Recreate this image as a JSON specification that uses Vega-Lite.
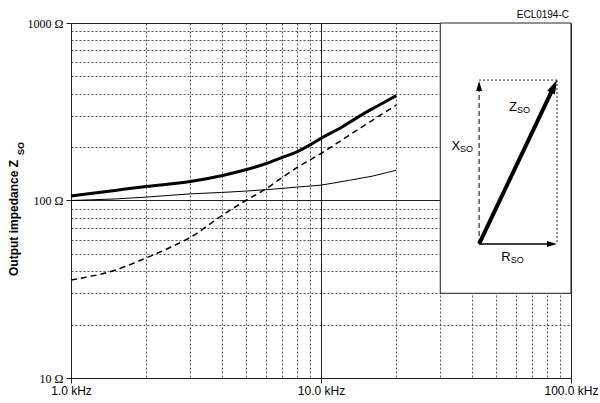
{
  "$schema": "https://vega.github.io/schema/vega-lite/v6.json",
  "width": 500,
  "height": 355,
  "autosize": {"type": "none"},
  "padding": {"left": 71, "top": 23, "right": 29, "bottom": 25},
  "background": "white",
  "config": {"view": {"stroke": null}},
  "datasets": {
    "inset": [{"f": 30, "f2": 100, "v": 30, "v2": 1000}],
    "curves": [
      {"f": 1, "v": 106, "series": "Z"}, {"f": 1.5, "v": 114, "series": "Z"}, {"f": 2, "v": 120, "series": "Z"},
      {"f": 3, "v": 128, "series": "Z"}, {"f": 4, "v": 138, "series": "Z"}, {"f": 5, "v": 149, "series": "Z"},
      {"f": 6, "v": 161, "series": "Z"}, {"f": 7, "v": 175, "series": "Z"}, {"f": 8, "v": 188, "series": "Z"},
      {"f": 9, "v": 205, "series": "Z"}, {"f": 10, "v": 224, "series": "Z"}, {"f": 12, "v": 257, "series": "Z"},
      {"f": 14, "v": 294, "series": "Z"}, {"f": 16, "v": 328, "series": "Z"}, {"f": 18, "v": 359, "series": "Z"},
      {"f": 20, "v": 390, "series": "Z"},
      {"f": 1, "v": 100, "series": "R"}, {"f": 1.5, "v": 102, "series": "R"}, {"f": 2, "v": 104.5, "series": "R"},
      {"f": 3, "v": 109, "series": "R"}, {"f": 4, "v": 111, "series": "R"}, {"f": 5, "v": 113, "series": "R"},
      {"f": 6, "v": 115, "series": "R"}, {"f": 7, "v": 117, "series": "R"}, {"f": 8, "v": 119, "series": "R"},
      {"f": 10, "v": 122, "series": "R"}, {"f": 13, "v": 130, "series": "R"}, {"f": 16, "v": 137, "series": "R"},
      {"f": 20, "v": 148, "series": "R"},
      {"f": 1, "v": 35.7, "series": "X"}, {"f": 1.5, "v": 40.5, "series": "X"}, {"f": 2, "v": 47.5, "series": "X"},
      {"f": 2.5, "v": 54.5, "series": "X"}, {"f": 3, "v": 62, "series": "X"}, {"f": 4, "v": 82, "series": "X"},
      {"f": 5, "v": 100, "series": "X"}, {"f": 6, "v": 116, "series": "X"}, {"f": 7, "v": 135, "series": "X"},
      {"f": 8, "v": 153, "series": "X"}, {"f": 10, "v": 184, "series": "X"}, {"f": 12, "v": 217, "series": "X"},
      {"f": 14, "v": 250, "series": "X"}, {"f": 16, "v": 282, "series": "X"}, {"f": 18, "v": 314, "series": "X"},
      {"f": 20, "v": 345, "series": "X"}
    ],
    "segments": [
      {"f": 42.9, "v": 56.9, "f2": 84, "v2": 56.9, "kind": "R"},
      {"f": 42.9, "v": 56.9, "f2": 42.9, "v2": 441.6, "kind": "X"},
      {"f": 42.9, "v": 477, "f2": 87.9, "v2": 477, "kind": "box"},
      {"f": 87.9, "v": 477, "f2": 87.9, "v2": 56.9, "kind": "box"},
      {"f": 42.9, "v": 56.9, "f2": 85.5, "v2": 440, "kind": "Z"}
    ],
    "arrows": [
      {"f": 83.9, "v": 56.9, "kind": "R"},
      {"f": 42.9, "v": 441.6, "kind": "X"},
      {"f": 85.5, "v": 440, "kind": "Z"}
    ],
    "labels": [
      {"f": 60.8, "v": 336, "main": "Z", "sub": "SO"},
      {"f": 36.0, "v": 202.8, "main": "X", "sub": "SO"},
      {"f": 57.4, "v": 48.1, "main": "R", "sub": "SO"}
    ],
    "titlesub": [{"f": 0.631, "v": 196, "sub": "SO"}],
    "code": [{"f": 100, "v": 1109, "t": "ECL0194-C"}]
  },
  "encoding": {
    "x": {
      "field": "f", "type": "quantitative",
      "scale": {"type": "log", "domain": [1, 100], "nice": false},
      "axis": {
        "values": [1, 2, 3, 4, 5, 6, 7, 8, 9, 10, 20, 30, 40, 50, 60, 70, 80, 90, 100],
        "labelExpr": "datum.value == 1 || datum.value == 10 || datum.value == 100 ? format(datum.value, '.1f') + ' kHz' : ''",
        "grid": true,
        "gridColor": {"condition": {"test": "datum.value == 1 || datum.value == 10 || datum.value == 100", "value": "#222"}, "value": "#555"},
        "gridDash": {"condition": {"test": "datum.value == 1 || datum.value == 10 || datum.value == 100", "value": []}, "value": [2, 2]},
        "tickOpacity": {"condition": {"test": "datum.value == 1 || datum.value == 10 || datum.value == 100", "value": 1}, "value": 0},
        "tickSize": 5, "tickColor": "#222", "domainColor": "#222",
        "labelFont": "Liberation Sans", "labelFontSize": 12, "labelColor": "black", "labelPadding": 2,
        "labelFlush": false, "labelOverlap": false,
        "title": null
      }
    },
    "y": {
      "field": "v", "type": "quantitative",
      "scale": {"type": "log", "domain": [10, 1000], "nice": false},
      "axis": {
        "values": [10, 20, 30, 40, 50, 60, 70, 80, 90, 100, 200, 300, 400, 500, 600, 700, 800, 900, 1000],
        "labelExpr": "datum.value == 10 || datum.value == 100 || datum.value == 1000 ? datum.value + ' Ω' : ''",
        "grid": true,
        "gridColor": {"condition": {"test": "datum.value == 10 || datum.value == 100 || datum.value == 1000", "value": "#222"}, "value": "#555"},
        "gridDash": {"condition": {"test": "datum.value == 10 || datum.value == 100 || datum.value == 1000", "value": []}, "value": [2, 2]},
        "tickOpacity": {"condition": {"test": "datum.value == 10 || datum.value == 100 || datum.value == 1000", "value": 1}, "value": 0},
        "tickSize": 5, "tickColor": "#222", "domainColor": "#222",
        "labelFont": "Liberation Serif", "labelFontSize": 12, "labelColor": "black", "labelPadding": 3,
        "labelFlush": false, "labelOverlap": false,
        "title": "Output impedance Z",
        "titleFont": "Liberation Sans", "titleFontSize": 12, "titleFontWeight": "bold", "titleColor": "black",
        "titleAngle": 270, "titleX": -54, "titleY": 194.5, "titleAlign": "center", "titleBaseline": "alphabetic"
      }
    }
  },
  "layer": [
    {
      "data": {"name": "inset"},
      "mark": {"type": "rect", "fill": "white", "stroke": "#222", "strokeWidth": 1},
      "encoding": {"x2": {"field": "f2"}, "y2": {"field": "v2"}}
    },
    {
      "data": {"name": "curves"},
      "transform": [{"filter": "datum.series == 'R'"}],
      "mark": {"type": "line", "color": "black", "strokeWidth": 1}
    },
    {
      "data": {"name": "curves"},
      "transform": [{"filter": "datum.series == 'X'"}],
      "mark": {"type": "line", "color": "black", "strokeWidth": 1.5, "strokeDash": [6, 4], "interpolate": "monotone"}
    },
    {
      "data": {"name": "curves"},
      "transform": [{"filter": "datum.series == 'Z'"}],
      "mark": {"type": "line", "color": "black", "strokeWidth": 3, "interpolate": "monotone"}
    },
    {
      "data": {"name": "segments"},
      "transform": [{"filter": "datum.kind == 'R'"}],
      "mark": {"type": "rule", "color": "black", "strokeWidth": 1.5},
      "encoding": {"x2": {"field": "f2"}, "y2": {"field": "v2"}}
    },
    {
      "data": {"name": "segments"},
      "transform": [{"filter": "datum.kind == 'X'"}],
      "mark": {"type": "rule", "color": "black", "strokeWidth": 1, "strokeDash": [5, 3]},
      "encoding": {"x2": {"field": "f2"}, "y2": {"field": "v2"}}
    },
    {
      "data": {"name": "segments"},
      "transform": [{"filter": "datum.kind == 'box'"}],
      "mark": {"type": "rule", "color": "#222", "strokeWidth": 1, "strokeDash": [2, 2]},
      "encoding": {"x2": {"field": "f2"}, "y2": {"field": "v2"}}
    },
    {
      "data": {"name": "segments"},
      "transform": [{"filter": "datum.kind == 'Z'"}],
      "mark": {"type": "rule", "color": "black", "strokeWidth": 4},
      "encoding": {"x2": {"field": "f2"}, "y2": {"field": "v2"}}
    },
    {
      "data": {"name": "arrows"},
      "transform": [{"filter": "datum.kind == 'R'"}],
      "mark": {"type": "point", "filled": true, "color": "black", "opacity": 1, "shape": "M0,-1L-0.6,1L0.6,1Z", "size": 100, "angle": 90}
    },
    {
      "data": {"name": "arrows"},
      "transform": [{"filter": "datum.kind == 'X'"}],
      "mark": {"type": "point", "filled": true, "color": "black", "opacity": 1, "shape": "M0,-1L-0.6,1L0.6,1Z", "size": 100, "angle": 0}
    },
    {
      "data": {"name": "arrows"},
      "transform": [{"filter": "datum.kind == 'Z'"}],
      "mark": {"type": "point", "filled": true, "color": "black", "opacity": 1, "shape": "M0,-1L-0.6,1L0.6,1Z", "size": 196, "angle": 25}
    },
    {
      "data": {"name": "labels"},
      "mark": {"type": "text", "align": "right", "baseline": "middle", "font": "Liberation Sans", "fontSize": 13, "color": "black"},
      "encoding": {"text": {"field": "main"}}
    },
    {
      "data": {"name": "labels"},
      "mark": {"type": "text", "align": "left", "baseline": "middle", "font": "Liberation Sans", "fontSize": 9, "dy": 3, "color": "black"},
      "encoding": {"text": {"field": "sub"}}
    },
    {
      "data": {"name": "titlesub"},
      "mark": {"type": "text", "align": "center", "baseline": "middle", "angle": 270, "font": "Liberation Sans", "fontSize": 9, "fontWeight": "bold", "color": "black"},
      "encoding": {"text": {"field": "sub"}}
    },
    {
      "data": {"name": "code"},
      "mark": {"type": "text", "align": "right", "baseline": "middle", "dx": -2, "font": "Liberation Sans", "fontSize": 10, "color": "black"},
      "encoding": {"text": {"field": "t"}}
    }
  ]
}
